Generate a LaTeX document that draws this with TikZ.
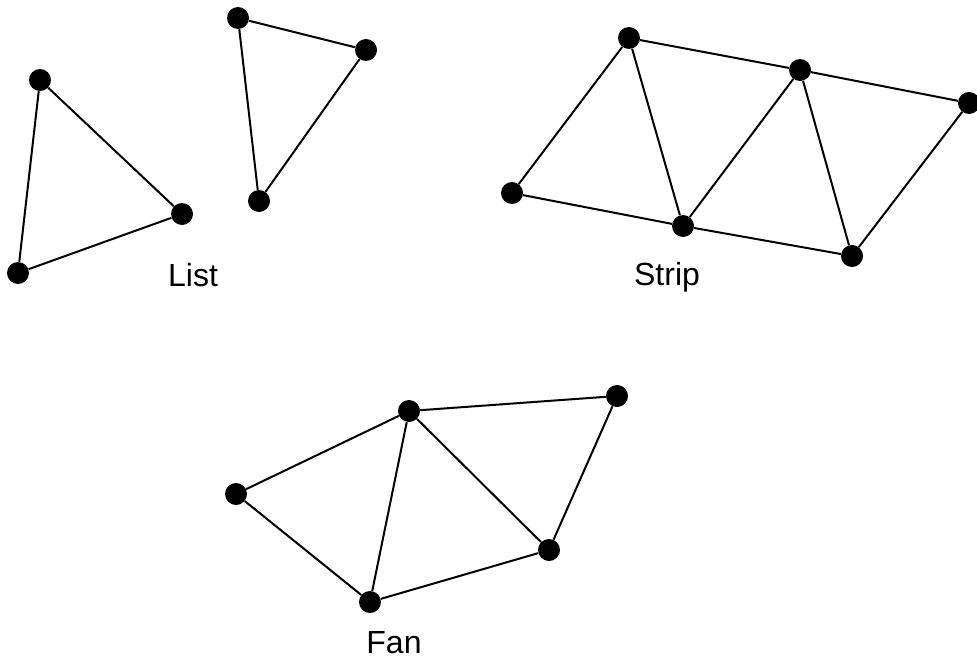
\documentclass[tikz,border=0pt]{standalone}
\usepackage{fontspec}
\setmainfont{Liberation Sans}
\usepackage{tikz}
\tikzset{
    vtx/.style={circle, fill=black, inner sep=0pt, minimum size=16.5pt},
    edg/.style={line width=1.5pt},
    lbl/.style={font=\fontsize{24}{28}\selectfont}
}

\begin{document}
\begin{tikzpicture}[x=0.75pt,y=-0.75pt]
            \useasboundingbox (0,0) rectangle (977,660);
            % List
            \node[vtx] (a1) at (40,80) {};
            \node[vtx] (a2) at (182,214) {};
            \node[vtx] (a3) at (18,273) {};
            \node[vtx] (b1) at (238,18) {};
            \node[vtx] (b2) at (366,50) {};
            \node[vtx] (b3) at (259,201) {};
            \draw[edg] (a1) -- (a2) -- (a3) -- (a1);
            \draw[edg] (b1) -- (b2) -- (b3) -- (b1);
            \node[lbl] (list) at (193,275) {List};

            % Strip
            \node[vtx] (s1) at (512,193) {};
            \node[vtx] (s2) at (629,38) {};
            \node[vtx] (s3) at (683,226) {};
            \node[vtx] (s4) at (800,70) {};
            \node[vtx] (s5) at (852,256) {};
            \node[vtx] (s6) at (969,103) {};
            \draw[edg] (s1) -- (s2) -- (s3) -- (s1);
            \draw[edg] (s2) -- (s4) -- (s3) -- (s5) -- (s4) -- (s6) -- (s5);
            \node[lbl] (strip) at (667,277) {Strip};

            % Fan
            \node[vtx] (f1) at (236,494) {};
            \node[vtx] (f2) at (409,411) {};
            \node[vtx] (f3) at (617,396) {};
            \node[vtx] (f4) at (370,602) {};
            \node[vtx] (f5) at (549,550) {};
            \draw[edg] (f1) -- (f2) -- (f4) -- (f1);
            \draw[edg] (f2) -- (f5) -- (f4);
            \draw[edg] (f2) -- (f3) -- (f5);
            \node[lbl] (fan) at (394,643) {Fan};
\end{tikzpicture}
\end{document}
